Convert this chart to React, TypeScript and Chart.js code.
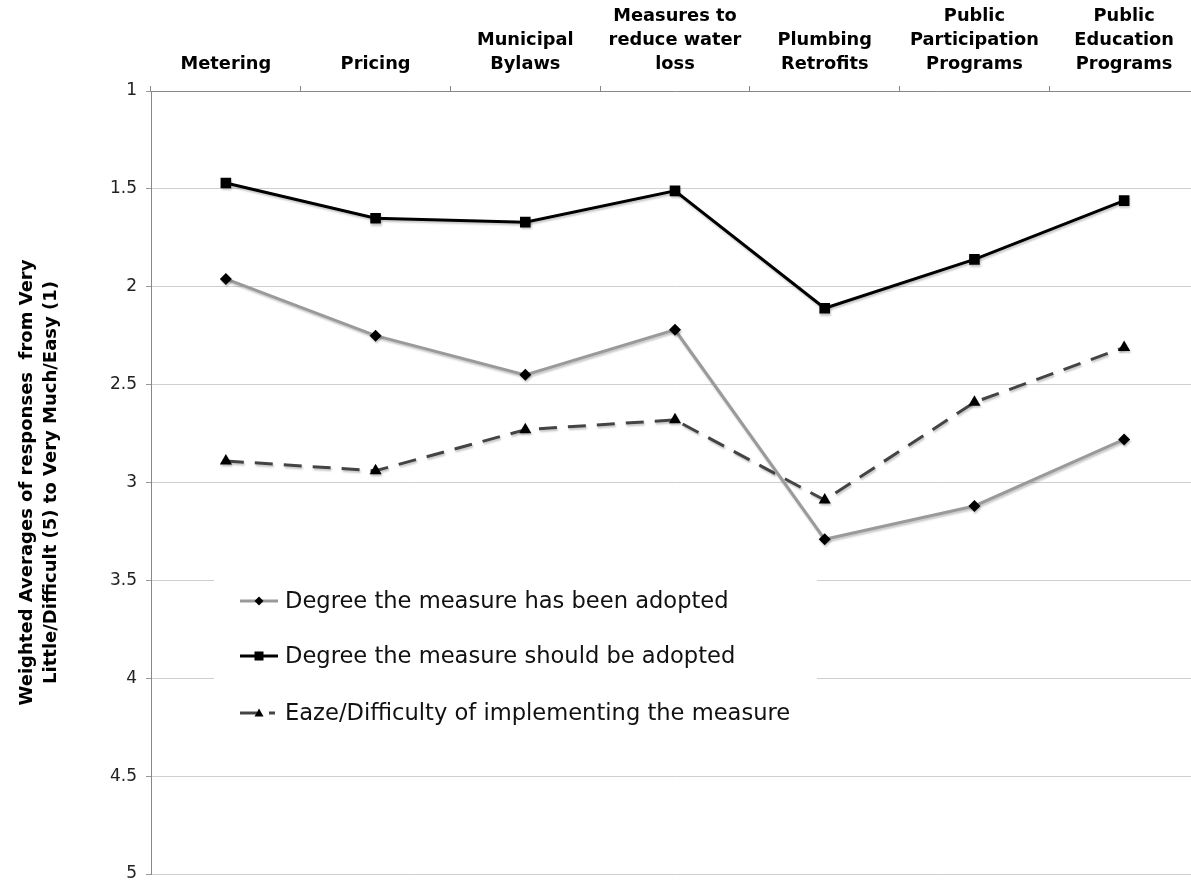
import React, { useEffect, useRef } from 'react';
import { Chart, registerables } from 'chart.js';

Chart.register(...registerables);

const categories: string[][] = [
  ['Metering'],
  ['Pricing'],
  ['Municipal', 'Bylaws'],
  ['Measures to', 'reduce water', 'loss'],
  ['Plumbing', 'Retrofits'],
  ['Public', 'Participation', 'Programs'],
  ['Public', 'Education', 'Programs'],
];

const seriesNames = [
  'Degree the measure has been adopted',
  'Degree the measure should be adopted',
  'Eaze/Difficulty of implementing the measure',
];

const hasBeenAdopted = [1.96, 2.25, 2.45, 2.22, 3.29, 3.12, 2.78];
const shouldBeAdopted = [1.47, 1.65, 1.67, 1.51, 2.11, 1.86, 1.56];
const easeOfImplementing = [2.89, 2.94, 2.73, 2.68, 3.09, 2.59, 2.31];

const yMin = 1;
const yMax = 5;
const yStep = 0.5;

const yAxisTitle = [
  'Weighted Averages of responses  from Very',
  'Little/Difficult (5) to Very Much/Easy (1)',
];

const FONT = "'DejaVu Sans', Verdana, sans-serif";

const seriesStyles = [
  { color: '#9a9a9a', dash: [] as number[], point: 'rectRot', radius: 6 },
  { color: '#000000', dash: [] as number[], point: 'rect', radius: 7.5 },
  { color: '#444444', dash: [18, 11], point: 'triangle', radius: 7 },
];

function drawMarker(ctx: CanvasRenderingContext2D, kind: string, x: number, y: number, r: number) {
  ctx.beginPath();
  if (kind === 'rectRot') {
    ctx.moveTo(x, y - r);
    ctx.lineTo(x + r, y);
    ctx.lineTo(x, y + r);
    ctx.lineTo(x - r, y);
  } else if (kind === 'rect') {
    ctx.rect(x - r, y - r, 2 * r, 2 * r);
  } else {
    ctx.moveTo(x, y - r);
    ctx.lineTo(x + r, y + r * 0.8);
    ctx.lineTo(x - r, y + r * 0.8);
  }
  ctx.closePath();
  ctx.fillStyle = '#000';
  ctx.fill();
}

const shadowPlugin = {
  id: 'lineShadow',
  beforeDatasetsDraw(chart: any) {
    const ctx = chart.ctx;
    ctx.save();
    ctx.shadowColor = 'rgba(0,0,0,0.22)';
    ctx.shadowOffsetX = 1;
    ctx.shadowOffsetY = 2;
    ctx.shadowBlur = 2;
  },
  afterDatasetsDraw(chart: any) {
    chart.ctx.restore();
  },
};

const innerLegendPlugin = {
  id: 'innerLegend',
  afterDraw(chart: any) {
    const ctx: CanvasRenderingContext2D = chart.ctx;
    const a = chart.chartArea;
    const boxLeft = a.left + 63;
    const boxTop = a.top + 484;
    const boxW = 603;
    const boxH = 165;
    ctx.save();
    ctx.fillStyle = '#ffffff';
    ctx.fillRect(boxLeft, boxTop, boxW, boxH);
    const rowY = [boxTop + 26, boxTop + 81, boxTop + 138];
    const lineX0 = boxLeft + 26;
    const lineX1 = boxLeft + 64;
    const markX = (lineX0 + lineX1) / 2;
    const textX = boxLeft + 71;
    seriesNames.forEach((name, i) => {
      const st = seriesStyles[i];
      const y = rowY[i];
      ctx.strokeStyle = st.color;
      ctx.lineWidth = 3;
      ctx.beginPath();
      if (i === 2) {
        ctx.moveTo(lineX0, y);
        ctx.lineTo(markX - 2, y);
        ctx.moveTo(markX + 10, y);
        ctx.lineTo(markX + 16, y);
      } else {
        ctx.moveTo(lineX0, y);
        ctx.lineTo(lineX1, y);
      }
      ctx.stroke();
      drawMarker(ctx, st.point, markX, y, 4.5);
      ctx.fillStyle = '#111';
      ctx.font = `22.6px ${FONT}`;
      ctx.textBaseline = 'middle';
      ctx.textAlign = 'left';
      ctx.fillText(name, textX, y + 1);
    });
    ctx.restore();
  },
};

export default function App() {
  const ref = useRef<HTMLCanvasElement | null>(null);

  useEffect(() => {
    if (!ref.current) return;
    const data = [hasBeenAdopted, shouldBeAdopted, easeOfImplementing];
    const chart = new Chart(ref.current, {
      type: 'line',
      data: {
        labels: categories,
        datasets: data.map((d, i) => ({
          label: seriesNames[i],
          data: d,
          borderColor: seriesStyles[i].color,
          borderWidth: 3,
          borderDash: seriesStyles[i].dash,
          pointStyle: seriesStyles[i].point as any,
          pointRadius: seriesStyles[i].radius,
          pointBackgroundColor: '#000',
          pointBorderColor: '#000',
          pointBorderWidth: 0,
          tension: 0,
          fill: false,
        })),
      },
      options: {
        responsive: false,
        animation: false,
        layout: { padding: { left: 0, top: 0, right: 8, bottom: 26 } },
        plugins: {
          legend: { display: false },
          tooltip: { enabled: false },
          title: { display: false },
        },
        scales: {
          x: {
            position: 'top',
            offset: true,
            grid: {
              display: true,
              drawOnChartArea: false,
              drawTicks: true,
              tickLength: 5,
              offset: true,
              color: '#888',
            },
            border: { display: true, color: '#888', width: 1 },
            ticks: {
              color: '#000',
              padding: 10,
              maxRotation: 0,
              autoSkip: false,
              font: { family: FONT, size: 17.8, weight: 'bold', lineHeight: 1.33 },
            },
            afterFit(scale: any) {
              scale.height = 91;
            },
          },
          y: {
            reverse: true,
            min: yMin,
            max: yMax,
            ticks: {
              stepSize: yStep,
              color: '#222',
              padding: 9,
              font: { family: FONT, size: 17 },
              callback: (v: any) => String(Number(Number(v).toFixed(1))),
            },
            grid: {
              color: '#cfcfcf',
              lineWidth: 1,
              tickLength: 5,
              tickColor: '#999',
            },
            border: { display: true, color: '#888', width: 1 },
            title: {
              display: true,
              text: yAxisTitle,
              color: '#000',
              padding: { top: 15, bottom: 0 },
              font: { family: FONT, size: 18, weight: 'bold', lineHeight: 1.34 },
            },
            afterFit(scale: any) {
              scale.width = 151;
            },
          },
        },
      },
      plugins: [shadowPlugin, innerLegendPlugin],
    });
    return () => chart.destroy();
  }, []);

  return (
    <div
      style={{
        position: 'fixed',
        left: 0,
        top: 0,
        width: 1191,
        height: 881,
        overflow: 'hidden',
        background: '#fff',
      }}
    >
      <canvas ref={ref} width={1207} height={900} style={{ display: 'block' }} />
    </div>
  );
}
